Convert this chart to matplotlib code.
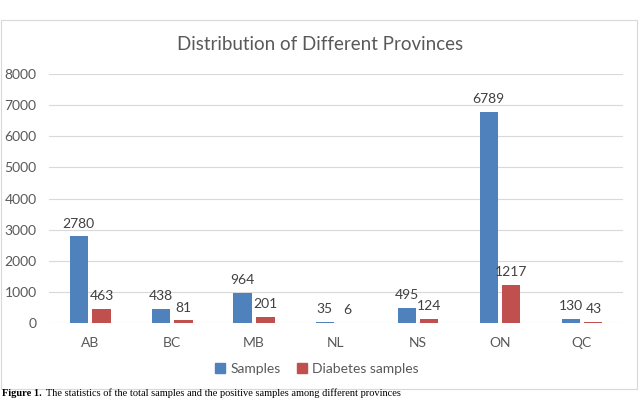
import matplotlib
matplotlib.use("Agg")
import matplotlib.pyplot as plt
from matplotlib.patches import Rectangle, Patch
import numpy as np

provinces = ["AB", "BC", "MB", "NL", "NS", "ON", "QC"]
samples = [2780, 438, 964, 35, 495, 6789, 130]
diabetes = [463, 81, 201, 6, 124, 1217, 43]
yticks = [0, 1000, 2000, 3000, 4000, 5000, 6000, 7000, 8000]

W, H = 640, 399
fig = plt.figure(figsize=(W / 100, H / 100), dpi=100)
fig.patch.set_facecolor("white")

FONT = "Lato"
TXT = "#595959"
BLUE = "#4f81bd"
RED = "#c0504d"

# chart border
fig.patches.append(Rectangle((1 / W, 1 - 388.5 / H), 636 / W, (388.5 - 19.5) / H,
                             transform=fig.transFigure, fill=False,
                             edgecolor="#d9d9d9", lw=0.8))

ax = fig.add_axes([49 / W, 1 - 323 / H, (623 - 49) / W, (323 - 74) / H])
x = np.arange(len(provinces))
bw = 0.22
off = 0.14
b1 = ax.bar(x - off, samples, bw, color=BLUE, label="Samples", zorder=3)
b2 = ax.bar(x + off, diabetes, bw, color=RED, label="Diabetes samples", zorder=3)

ax.set_xlim(-0.5, len(provinces) - 0.5)
ax.set_ylim(0, 8000)
ax.set_yticks(yticks)
ax.set_yticklabels([str(v) for v in yticks], fontname=FONT, fontsize=10, color=TXT)
ax.set_xticks(x)
ax.set_xticklabels(provinces, fontname=FONT, fontsize=10, color=TXT)
ax.tick_params(axis="both", length=0)
ax.tick_params(axis="y", pad=9)
ax.tick_params(axis="x", pad=10)
ax.grid(axis="y", color="#d9d9d9", lw=0.8, zorder=0)
for s in ax.spines.values():
    s.set_visible(False)

for bars, vals in ((b1, samples), (b2, diabetes)):
    for r, v in zip(bars, vals):
        ax.annotate(str(v), (r.get_x() + r.get_width() / 2, v),
                    xytext=(0, 5), textcoords="offset points",
                    ha="center", va="bottom", fontname=FONT,
                    fontsize=10, color="#404040")

fig.text(320 / W, 1 - 45 / H, "Distribution of Different Provinces",
         ha="center", va="center", fontname=FONT, fontsize=13.5, color=TXT)

leg = fig.legend(handles=[Patch(color=BLUE, label="Samples"),
                          Patch(color=RED, label="Diabetes samples")],
                 loc="center", bbox_to_anchor=(317 / W, 1 - 369 / H),
                 ncol=2, frameon=False, handlelength=0.7, handleheight=0.7,
                 handletextpad=0.4, columnspacing=1.2,
                 prop={"family": FONT, "size": 10})
for t in leg.get_texts():
    t.set_color(TXT)

# caption below the chart
cap_y = 1 - 398.5 / H
t1 = fig.text(2 / W, cap_y, "Figure 1.", ha="left", va="bottom",
              fontname="Liberation Serif", fontweight="bold", fontsize=7.5, color="black")
fig.canvas.draw()
bb = t1.get_window_extent()
fig.text((bb.x1 + 4) / W, cap_y,
         "The statistics of the total samples and the positive samples among different provinces",
         ha="left", va="bottom", fontname="Liberation Serif", fontsize=7.5, color="black")

fig.savefig("out.png", dpi=100)
